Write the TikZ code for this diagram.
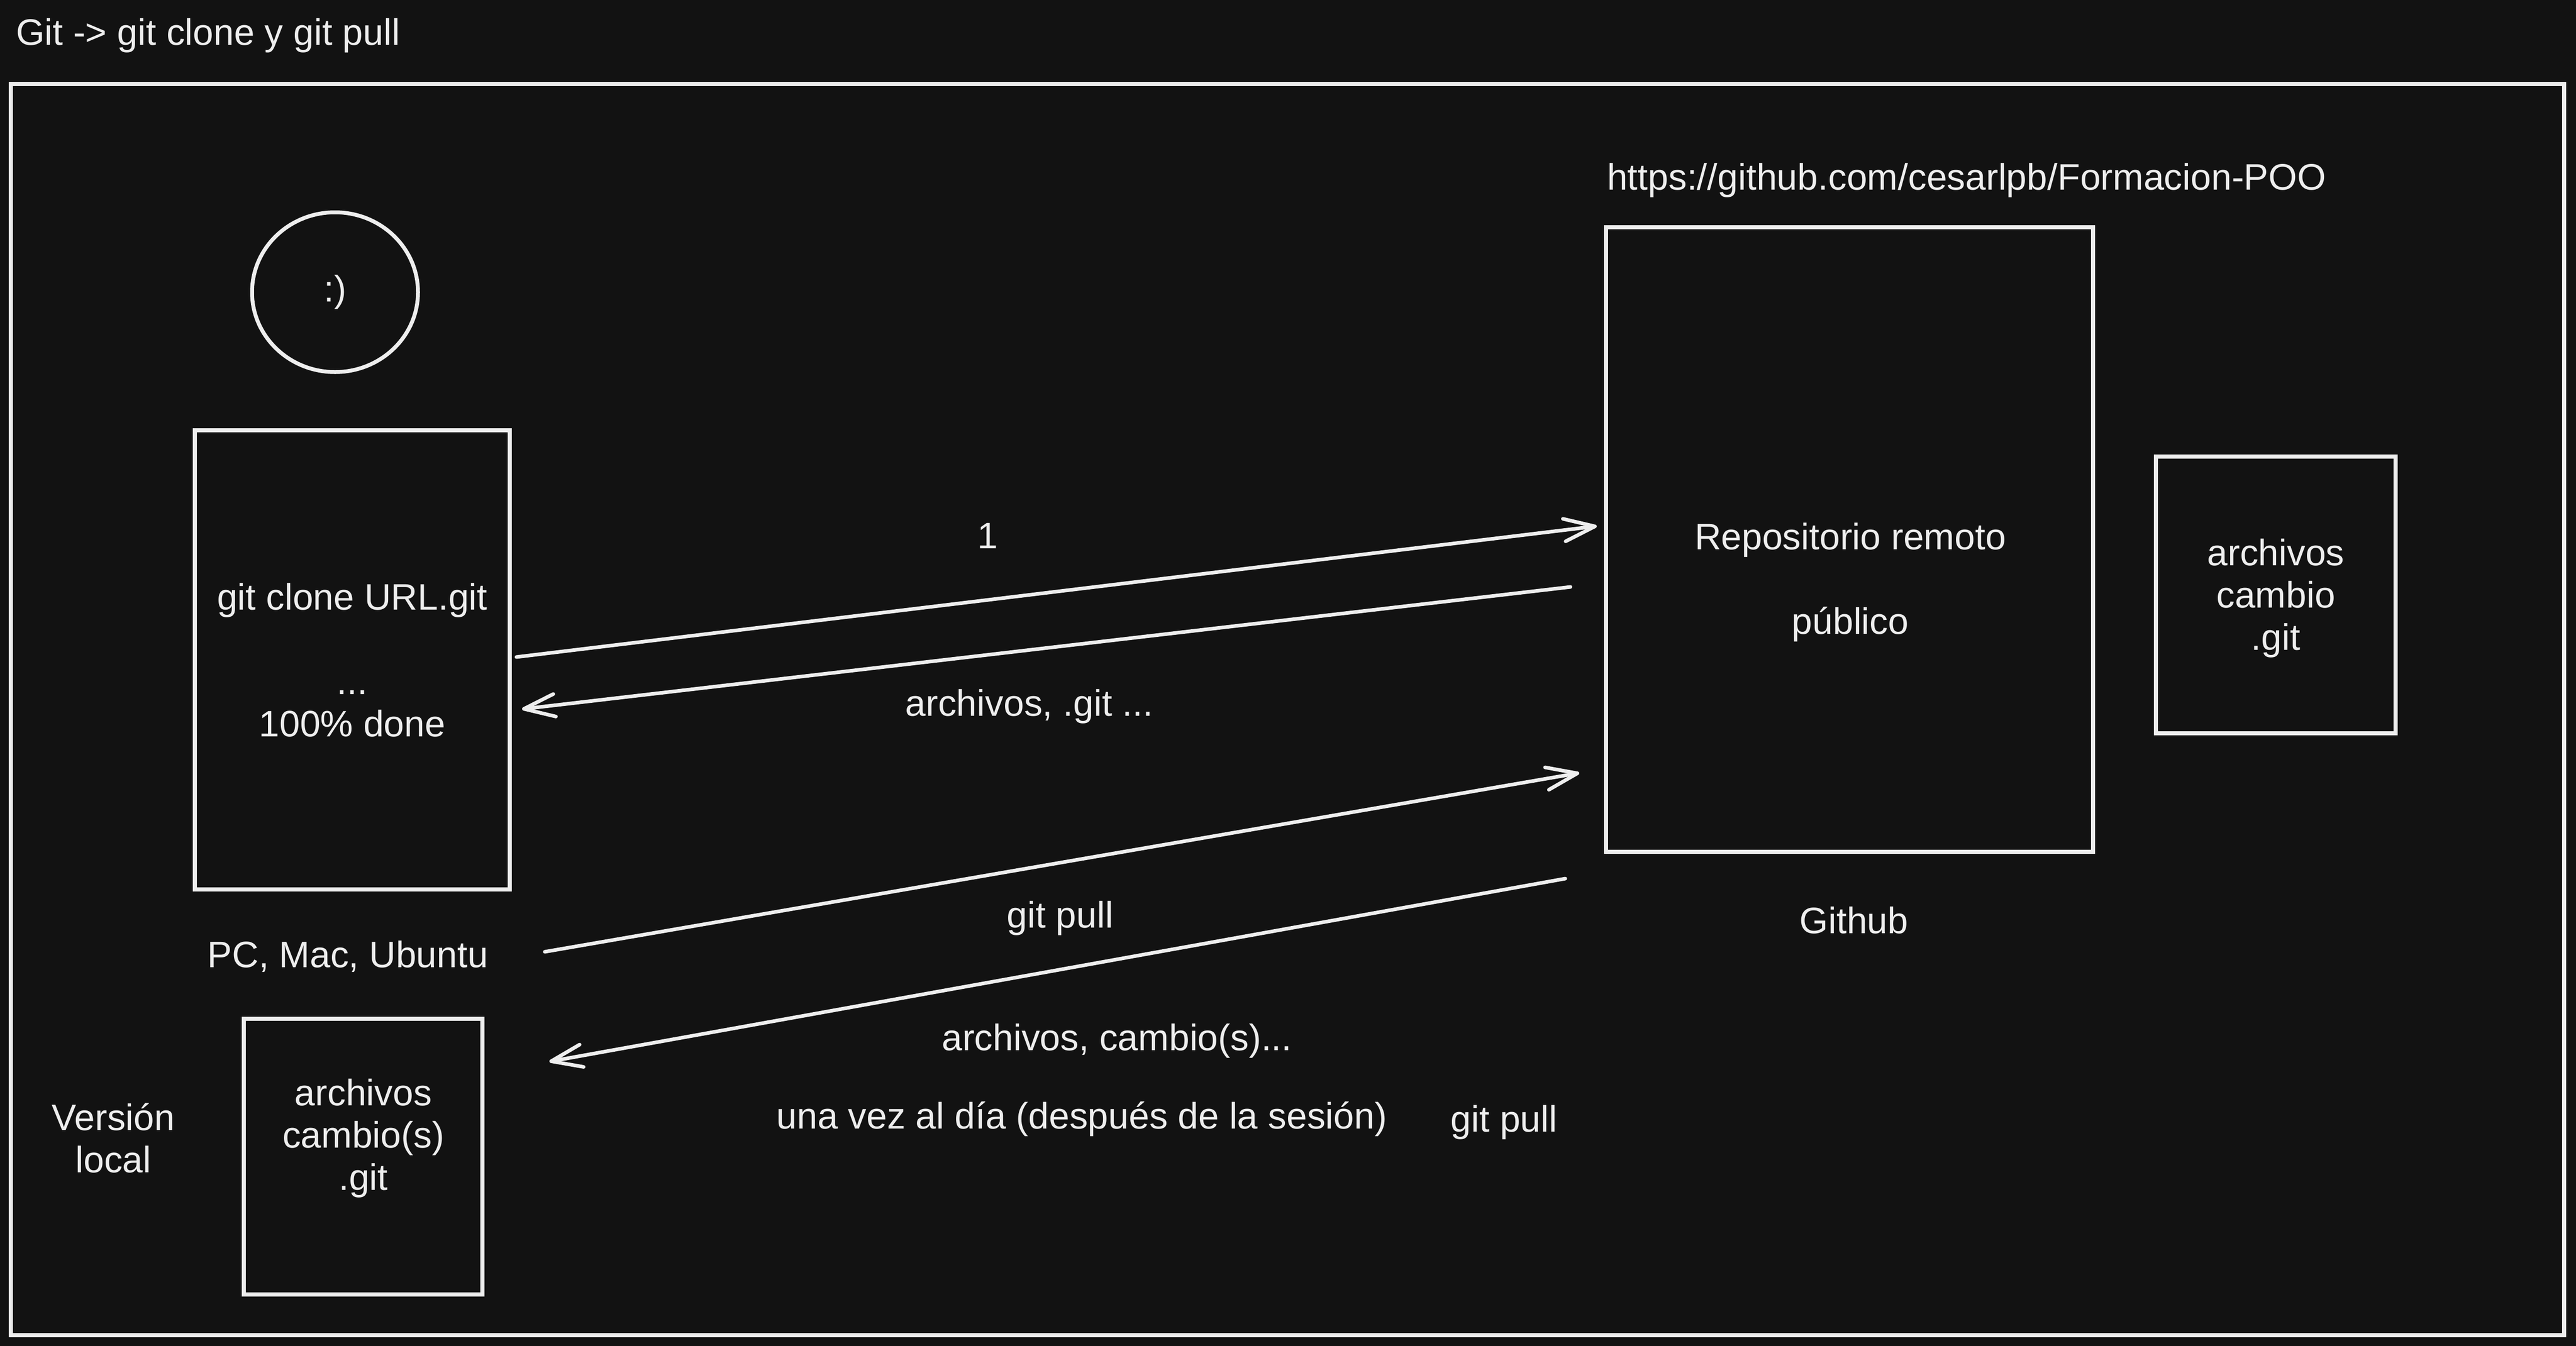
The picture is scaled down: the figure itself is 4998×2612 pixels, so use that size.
\documentclass[tikz,border=0pt]{standalone}
\usepackage{fontspec}
\setmainfont{Liberation Sans}
\usetikzlibrary{arrows.meta,shapes.geometric}
\definecolor{bg}{HTML}{121212}
\definecolor{fg}{HTML}{EEEEEE}
\begin{document}
\begin{tikzpicture}[x=0.2pt,y=-0.2pt,
  txt/.style={text=fg, font=\fontsize{14.3pt}{16.4pt}\selectfont, align=center, inner sep=0pt, outer sep=0pt},
  box/.style={draw=fg, line width=1.5pt, rectangle, inner sep=0pt, outer sep=0pt, txt},
  oval/.style={draw=fg, line width=1.5pt, ellipse, inner sep=0pt, outer sep=0pt, txt},
  arr/.style={draw=fg, line width=1.4pt, line cap=round, -{Straight Barb[length=12pt,width=8.8pt,round]}}
]
\fill[bg] (0,0) rectangle (4998,2612);
\useasboundingbox (0,0) rectangle (4998,2612);

% title
\node[txt, anchor=base west] (title) at (31,87) {Git -> git clone y git pull};

% outer frame
\node[box, minimum width=990.8pt, minimum height=485.6pt] (frame) at (2498,1377) {};

% local side
\node[oval, minimum width=64.4pt, minimum height=62pt] (smile) at (650,567) {:)};
\node[box, minimum width=122.2pt, minimum height=178.2pt] (clone) at (683.5,1280.5)
  {git clone URL.git\\ \mbox{}\\ ...\\ 100\% done};
\node[txt, anchor=base] (pc) at (675,1877) {PC, Mac, Ubuntu};
\node[box, minimum width=92.6pt, minimum height=107pt] (local) at (704.5,2244.5) {};
\node[txt, anchor=base] (localtxt) at (705,2309) {archivos\\ cambio(s)\\ .git};
\node[txt, anchor=base] (version) at (220,2275) {Versión\\ local};

% remote side
\node[txt, anchor=base west] (url) at (3118,368) {https://github.com/cesarlpb/Formacion-POO};
\node[box, minimum width=189pt, minimum height=242.4pt] (remote) at (3588.5,1047) {};
\node[txt, anchor=base] (remotetxt) at (3590,1230) {Repositorio remoto\\ \mbox{}\\ público};
\node[txt, anchor=base] (github) at (3597,1811) {Github};
\node[box, minimum width=93pt, minimum height=107.4pt] (rbox) at (4415.5,1154.5) {};
\node[txt, anchor=base] (rboxtxt) at (4415.5,1261) {archivos\\ cambio\\ .git};

% arrow end points
\coordinate (a1s) at (1002,1275);
\coordinate (a1e) at (3098,1021);
\coordinate (a2s) at (3047,1139);
\coordinate (a2e) at (1013,1376);
\coordinate (a3s) at (1057,1847);
\coordinate (a3e) at (3064,1500);
\coordinate (a4s) at (3037,1705);
\coordinate (a4e) at (1066,2060);

\draw[arr] (a1s) -- (a1e);
\draw[arr] (a2s) -- (a2e);
\draw[arr] (a3s) -- (a3e);
\draw[arr] (a4s) -- (a4e);

% labels
\node[txt, anchor=base] (l1) at (1916,1064) {1};
\node[txt, anchor=base] (l2) at (1997,1389) {archivos, .git ...};
\node[txt, anchor=base] (l3) at (2057,1800) {git pull};
\node[txt, anchor=base] (l4) at (2167,2038) {archivos, cambio(s)...};
\node[txt, anchor=base] (l5) at (2099,2190) {una vez al día (después de la sesión)};
\node[txt, anchor=base] (l6) at (2918,2196) {git pull};
\end{tikzpicture}
\end{document}
